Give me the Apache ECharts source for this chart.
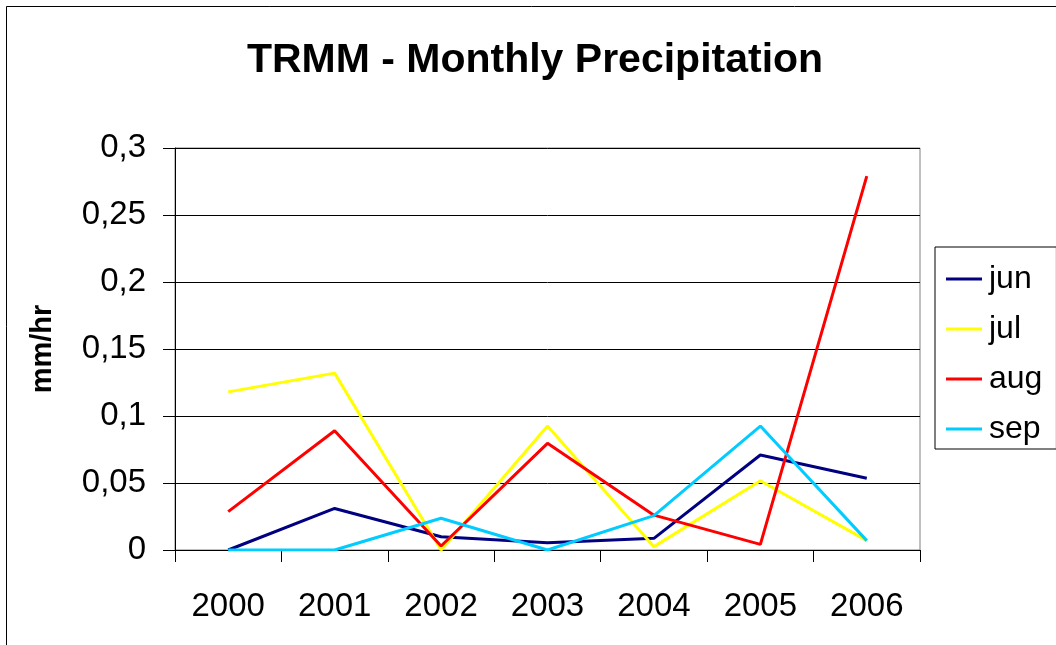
<!DOCTYPE html>
<html>
<head>
<meta charset="utf-8">
<script src="https://cdn.jsdelivr.net/npm/echarts@6/dist/echarts.min.js"></script>
<style>
html,body{margin:0;padding:0;background:#fff;}
#chart{width:1056px;height:645px;}
</style>
</head>
<body>
<div id="chart"></div>
<script>
const categories = ['2000','2001','2002','2003','2004','2005','2006'];
const jun = [0, 0.031, 0.0099, 0.0055, 0.0087, 0.0709, 0.0535];
const jul = [0.118, 0.132, 0, 0.0925, 0.0025, 0.0517, 0.007];
const aug = [0.0286, 0.089, 0.003, 0.0796, 0.026, 0.0042, 0.279];
const sep = [0, 0, 0.0237, 0, 0.0256, 0.0925, 0.007];
const yTickValues = [0, 0.05, 0.1, 0.15, 0.2, 0.25, 0.3];
const yTickLabels = ['0', '0,05', '0,1', '0,15', '0,2', '0,25', '0,3'];

const FONT = 'Liberation Sans, Arial, sans-serif';
const chart = echarts.init(document.getElementById('chart'), null, {renderer: 'canvas'});

function mk(name, data, color) {
  return {
    name: name, type: 'line', data: data, symbol: 'none', showSymbol: false,
    lineStyle: {color: color, width: 3}, itemStyle: {color: color},
    animation: false
  };
}

chart.setOption({
  animation: false,
  backgroundColor: '#fff',
  textStyle: {fontFamily: FONT},
  title: {
    text: 'TRMM - Monthly Precipitation',
    left: 530, top: 35, textAlign: 'center',
    textStyle: {fontFamily: FONT, fontWeight: 'bold', fontSize: 41, color: '#000'}
  },
  graphic: [{
    type: 'rect', shape: {x: 6.5, y: 6.5, width: 1200, height: 800},
    style: {fill: null, stroke: '#000', lineWidth: 1}, silent: true, z: -1
  }],
  legend: {
    orient: 'vertical', left: 935, top: 247,
    padding: [16, 14, 4, 11], itemGap: 18,
    itemWidth: 36, itemHeight: 3, icon: 'rect',
    borderColor: '#000', borderWidth: 1, backgroundColor: '#fff',
    textStyle: {fontFamily: FONT, fontSize: 32, color: '#000', padding: [0, 0, 0, 2]},
    data: ['jun', 'jul', 'aug', 'sep']
  },
  grid: {
    left: 175, right: 136, top: 148, bottom: 95,
    show: true, borderColor: '#808080', borderWidth: 1, backgroundColor: '#fff'
  },
  xAxis: {
    type: 'category', data: categories, boundaryGap: true,
    axisLine: {lineStyle: {color: '#000', width: 1}},
    axisTick: {show: true, length: 12, inside: false, lineStyle: {color: '#000'}},
    axisLabel: {fontFamily: FONT, fontSize: 33, color: '#000', margin: 40},
    splitLine: {show: false}
  },
  yAxis: {
    type: 'value', min: 0, max: 0.3, interval: 0.05,
    name: 'mm/hr', nameLocation: 'middle', nameRotate: 90, nameGap: 118,
    nameTextStyle: {fontFamily: FONT, fontSize: 29, fontWeight: 'bold', color: '#000'},
    axisLine: {show: true, lineStyle: {color: '#000', width: 1}},
    axisTick: {show: true, length: 12, inside: false, lineStyle: {color: '#000'}},
    axisLabel: {
      fontFamily: FONT, fontSize: 33, color: '#000', margin: 29,
      formatter: function (v) {
        for (let i = 0; i < yTickValues.length; i++) {
          if (Math.abs(v - yTickValues[i]) < 1e-9) return yTickLabels[i];
        }
        return '';
      }
    },
    splitLine: {show: true, lineStyle: {color: '#000', width: 1}}
  },
  series: [
    mk('jun', jun, '#000080'),
    mk('jul', jul, '#FFFF00'),
    mk('aug', aug, '#FF0000'),
    mk('sep', sep, '#00CCFF')
  ]
});
</script>
</body>
</html>
